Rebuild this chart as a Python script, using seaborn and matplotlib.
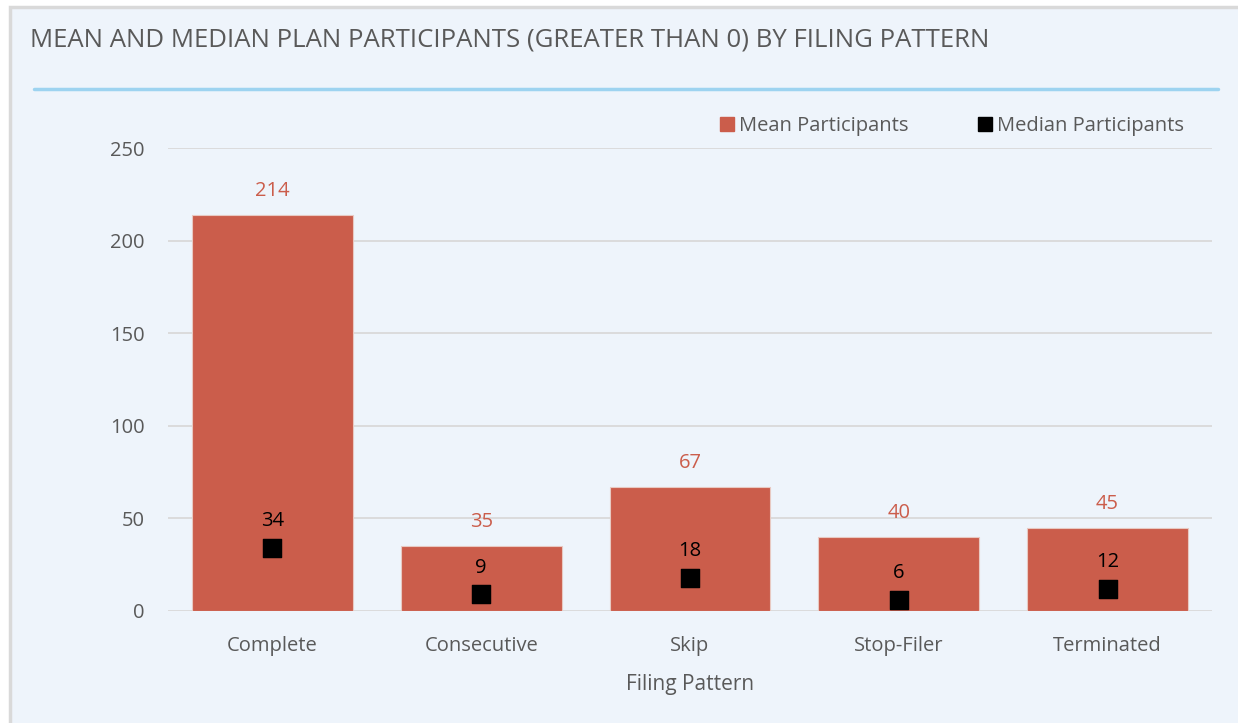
import matplotlib

matplotlib.use("Agg")
import matplotlib.pyplot as plt
import pandas as pd
import seaborn as sns
from matplotlib.lines import Line2D
from matplotlib.patches import Rectangle

patterns = ["Complete", "Consecutive", "Skip", "Stop-Filer", "Terminated"]
mean_participants = [214, 35, 67, 40, 45]
median_participants = [34, 9, 18, 6, 12]
y_ticks = [0, 50, 100, 150, 200, 250]

BAR = "#CB5D4B"
BG = "#EEF4FB"
TXT = "#595959"

sns.set_style("white")
plt.rcParams["font.family"] = ["Open Sans", "DejaVu Sans"]

df = pd.DataFrame({"pattern": patterns, "mean": mean_participants, "median": median_participants})

fig = plt.figure(figsize=(12.38, 7.23), dpi=100)
fig.patch.set_facecolor("white")
# panel background with light border
fig.patches.append(Rectangle((10 / 1238, -0.01), 1.02, 1 - 7 / 723 + 0.01, transform=fig.transFigure,
                             facecolor=BG, edgecolor="#D9D9D9", linewidth=2.5, zorder=-5))
fig.add_artist(Line2D([34 / 1238, 1218 / 1238], [1 - 89 / 723] * 2, transform=fig.transFigure,
                      color="#9DD3F0", linewidth=2.5))
fig.text(30 / 1238, 1 - 40 / 723, "MEAN AND MEDIAN PLAN PARTICIPANTS (GREATER THAN 0) BY FILING PATTERN",
         fontsize=18.5, color=TXT, va="center", ha="left")

ax = fig.add_axes([168 / 1238, 1 - 611 / 723, (1212 - 168) / 1238, (611 - 148) / 723])
ax.set_zorder(1)
ax.set_facecolor("none")

sns.barplot(data=df, x="pattern", y="mean", color=BAR, width=0.77, saturation=1, ax=ax, zorder=2,
            edgecolor="#E8C9C2", linewidth=0.8)
sns.scatterplot(data=df, x="pattern", y="median", color="black", marker="s", s=170, edgecolor="black",
                ax=ax, zorder=3)

for i, (m, md) in enumerate(zip(mean_participants, median_participants)):
    ax.annotate(f"{m}", (i, m), xytext=(0, 10), textcoords="offset points", ha="center", va="bottom",
                fontsize=14.5, color=BAR)
    ax.annotate(f"{md}", (i, md), xytext=(0, 12), textcoords="offset points", ha="center", va="bottom",
                fontsize=14.5, color="black")

ax.set_ylim(0, 250)
ax.set_xlim(-0.5, 4.5)
ax.set_yticks(y_ticks)
ax.yaxis.grid(True, color="#D9D9D9", linewidth=1.3, zorder=0)
ax.set_axisbelow(True)
for s in ax.spines.values():
    s.set_visible(False)
ax.tick_params(axis="both", length=0, labelsize=14.5, labelcolor=TXT)
ax.tick_params(axis="y", pad=17)
ax.tick_params(axis="x", pad=18)
ax.set_xlabel("Filing Pattern", fontsize=15, color=TXT, labelpad=13)
ax.set_ylabel("")

handles = [Line2D([], [], marker="s", linestyle="", color=BAR, markersize=10),
           Line2D([], [], marker="s", linestyle="", color="black", markersize=10)]
fig.legend(handles, ["Mean Participants", "Median Participants"], loc="center right",
           bbox_to_anchor=(1184 / 1238, 1 - 126 / 723), ncol=2, frameon=False, fontsize=14.5,
           labelcolor=TXT, handletextpad=0.1, columnspacing=3.3, handlelength=1.0,
           borderaxespad=0, borderpad=0)

fig.savefig("out.png", dpi=100, facecolor=fig.get_facecolor())
